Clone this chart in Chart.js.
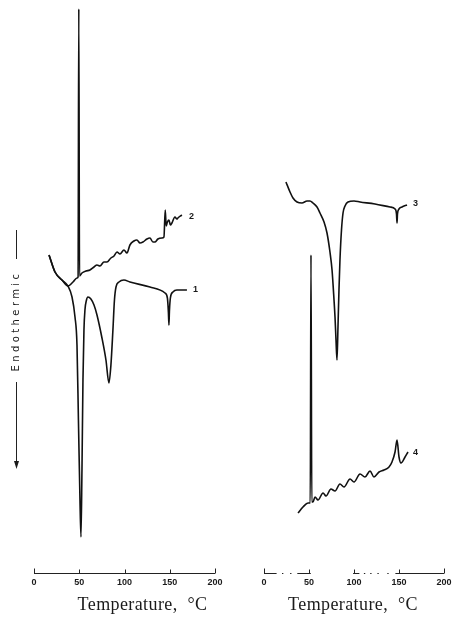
<!DOCTYPE html>
<html lang="en">
<head>
<meta charset="UTF-8">
<title>DSC thermograms</title>
<script src="https://cdn.jsdelivr.net/npm/chart.js"></script>
<style>
  body { margin: 0; background: #fff; }
  .panel { position: absolute; top: 0; }
  #leftPanel { left: 0; }
  #rightPanel { left: 229px; }
</style>
</head>
<body>
<canvas id="leftPanel" class="panel" width="229" height="619"></canvas>
<canvas id="rightPanel" class="panel" width="229" height="619"></canvas>
<script>
// temperature in °C, heat flow in arbitrary units (endothermic = down)
const tempTicks = [0, 50, 100, 150, 200];

const curve1T = [16.6, 23.2, 30.9, 37.5, 42.0, 45.3, 47.5, 49.1, 50.8, 51.9, 53.0, 54.1, 55.2, 56.3, 58.0, 59.6, 62.9, 66.3, 69.6, 75.1, 79.5, 82.8, 85.0, 87.2, 88.9, 90.6, 93.9, 99.4, 106.0, 128.1, 144.7, 147.4, 148.5, 149.1, 149.6, 150.7, 153.5, 157.9, 169.0];
const curve1V = [31.8, 30.1, 29.3, 28.7, 27.6, 25.6, 22.8, 15.3, 7.3, 3.6, 10.3, 19.3, 24.3, 26.3, 27.3, 27.6, 27.4, 26.8, 25.8, 23.5, 21.3, 19.0, 20.8, 24.3, 27.3, 28.6, 29.1, 29.3, 29.1, 28.6, 28.0, 27.5, 26.1, 24.8, 26.1, 27.5, 28.1, 28.3, 28.3];

const curve2T = [16.6, 23.2, 30.9, 37.5, 43.1, 47.5, 48.7, 49.5, 50.3, 53.0, 57.4, 61.8, 66.3, 69.6, 72.9, 77.3, 80.6, 85.0, 88.4, 91.7, 95.0, 99.4, 102.7, 106.0, 110.4, 113.7, 117.1, 120.4, 124.8, 128.1, 131.4, 133.6, 136.9, 141.4, 143.6, 145.0, 146.1, 147.4, 149.1, 150.7, 152.4, 155.7, 157.9, 159.0, 163.4];
const curve2V = [31.8, 30.1, 29.3, 28.7, 29.1, 29.5, 29.6, 56.4, 29.7, 30.0, 30.2, 30.3, 30.6, 30.8, 30.7, 31.1, 31.1, 31.5, 31.7, 32.1, 31.9, 32.3, 32.0, 32.8, 33.2, 33.3, 33.0, 33.1, 33.4, 33.5, 33.1, 33.1, 33.4, 33.5, 33.6, 36.3, 34.7, 35.1, 35.3, 34.8, 35.0, 35.6, 35.4, 35.5, 35.8];

const curve3T = [24.4, 28.9, 32.2, 36.7, 42.2, 47.8, 51.1, 54.4, 58.9, 62.2, 66.7, 70.0, 73.3, 75.6, 77.8, 78.9, 80.0, 81.1, 82.2, 83.3, 84.4, 86.1, 87.8, 90.0, 93.3, 100.0, 106.7, 123.3, 140.0, 145.6, 147.2, 147.8, 148.3, 150.0, 153.3, 158.9];
const curve3V = [39.1, 38.1, 37.5, 37.1, 37.0, 37.2, 37.2, 37.0, 36.6, 36.0, 35.1, 34.0, 32.1, 30.3, 27.3, 25.6, 23.3, 21.3, 24.6, 28.3, 31.3, 34.3, 36.0, 36.7, 37.1, 37.2, 37.1, 36.9, 36.6, 36.4, 35.9, 35.0, 35.9, 36.4, 36.6, 36.8];

const curve4T = [37.8, 43.3, 48.9, 51.4, 52.2, 53.1, 54.4, 56.7, 60.0, 65.6, 68.9, 74.4, 78.9, 84.4, 88.9, 95.6, 100.0, 106.7, 112.2, 117.8, 122.2, 127.8, 133.3, 138.9, 142.2, 145.6, 147.8, 150.0, 152.2, 156.7, 160.0];
const curve4V = [6.0, 6.6, 7.0, 7.0, 31.8, 7.1, 7.1, 7.6, 7.3, 8.0, 7.7, 8.4, 8.2, 8.9, 8.6, 9.4, 9.1, 9.9, 9.6, 10.2, 9.6, 10.1, 10.3, 10.6, 11.1, 12.1, 13.3, 11.6, 11.0, 11.6, 12.1];

// curve numbers written at the end of each trace
const curveNames = ['1', '2', '3', '4'];
const labelT = [175.6, 171.2, 165.6, 165.6];
const labelV = [28.3, 35.6, 36.9, 12.0];

function toPoints(ts, vs) {
    return ts.map((t, i) => ({ x: t, y: vs[i] }));
}

function trace(ts, vs) {
    return {
        data: toPoints(ts, vs),
        borderColor: '#111',
        borderWidth: 1.6,
        pointRadius: 0,
        fill: false,
        cubicInterpolationMode: 'monotone',
        clip: false
    };
}

const decor = {
    id: 'decor',
    afterDraw(chart, args, opts) {
        const ctx = chart.ctx;
        const xs = chart.scales.x, ys = chart.scales.y;
        const area = chart.chartArea;
        const base = area.bottom + 0.5;
        ctx.save();
        ctx.strokeStyle = '#222';
        ctx.lineWidth = 1;

        // axis line, the scan leaves some gaps in it
        opts.axisRuns.forEach(([a, b]) => {
            ctx.beginPath();
            ctx.moveTo(xs.getPixelForValue(a), base);
            ctx.lineTo(xs.getPixelForValue(b), base);
            ctx.stroke();
        });
        // tick marks point upwards
        tempTicks.forEach(t => {
            const px = Math.round(xs.getPixelForValue(t)) + 0.5;
            const len = (t === 0 || t === 200) ? 5 : 4;
            ctx.beginPath();
            ctx.moveTo(px, base);
            ctx.lineTo(px, base - len);
            ctx.stroke();
        });

        ctx.fillStyle = '#1a1a1a';
        ctx.font = 'bold 9px "Liberation Sans"';
        ctx.textBaseline = 'middle';
        ctx.textAlign = 'left';
        opts.labels.forEach(i => {
            ctx.fillText(curveNames[i], xs.getPixelForValue(labelT[i]), ys.getPixelForValue(labelV[i]));
        });

        ctx.font = '18px "Liberation Serif"';
        ctx.letterSpacing = '0.4px';
        ctx.textAlign = 'center';
        ctx.fillText('Temperature,  \u00B0C', (area.left + area.right) / 2 + opts.titleShift, 605);
        ctx.letterSpacing = '0px';

        if (opts.endo) {
            const cx = 16.5;
            ctx.beginPath();
            ctx.moveTo(cx, 230);
            ctx.lineTo(cx, 259);
            ctx.moveTo(cx, 382);
            ctx.lineTo(cx, 462);
            ctx.stroke();
            ctx.beginPath();
            ctx.moveTo(cx - 2.5, 461);
            ctx.lineTo(cx + 2.5, 461);
            ctx.lineTo(cx, 469);
            ctx.closePath();
            ctx.fill();

            ctx.translate(cx, 321);
            ctx.rotate(-Math.PI / 2);
            ctx.font = '10px "DejaVu Sans"';
            ctx.letterSpacing = '3.4px';
            ctx.textAlign = 'center';
            ctx.fillText('Endothermic', 0, 0);
        }
        ctx.restore();
    }
};

function makeChart(id, datasets, padLeft, decorOpts) {
    return new Chart(document.getElementById(id), {
        type: 'line',
        data: { datasets: datasets },
        options: {
            responsive: false,
            animation: false,
            layout: { padding: { left: padLeft, right: 14, top: 0, bottom: 0 } },
            plugins: {
                legend: { display: false },
                tooltip: { enabled: false },
                decor: decorOpts
            },
            scales: {
                x: {
                    type: 'linear',
                    min: 0,
                    max: 200,
                    afterFit: scale => { scale.height = 46; },
                    afterBuildTicks: scale => { scale.ticks = tempTicks.map(v => ({ value: v })); },
                    ticks: {
                        color: '#1a1a1a',
                        font: { family: 'Liberation Sans', size: 9, weight: 'bold' },
                        padding: 4,
                        maxRotation: 0
                    },
                    grid: { display: false, drawTicks: false },
                    border: { display: false }
                },
                y: {
                    display: false,
                    min: 0,
                    max: 57.3
                }
            }
        },
        plugins: [decor]
    });
}

makeChart('leftPanel', [trace(curve1T, curve1V), trace(curve2T, curve2V)], 34, {
    axisRuns: [[0, 200]],
    labels: [0, 1],
    titleShift: 18,
    endo: true
});

makeChart('rightPanel', [trace(curve3T, curve3V), trace(curve4T, curve4V)], 35, {
    axisRuns: [[0, 14], [20, 21.5], [29, 30.5], [37, 52], [99, 106], [111, 112.5], [118, 119.5], [126, 127.5], [137, 138.5], [146, 200]],
    labels: [2, 3],
    titleShift: -1,
    endo: false
});
</script>
</body>
</html>
